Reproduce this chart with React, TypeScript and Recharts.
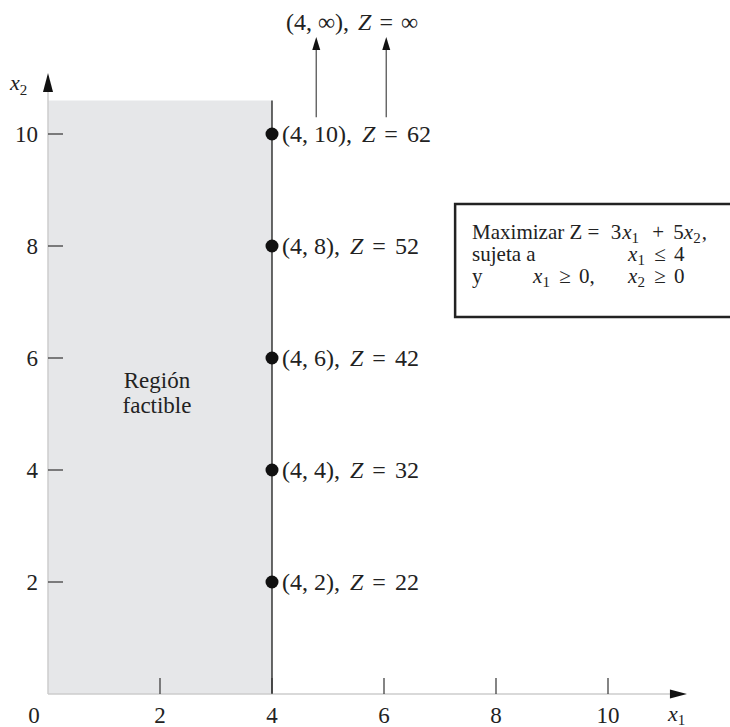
import { ReferenceArea, ReferenceDot, ReferenceLine, Scatter, ScatterChart, XAxis, YAxis } from 'recharts';

const FONT = '"Liberation Serif", "Times New Roman", serif';
const INK = '#222';

// ticks
const xTicks = [0, 2, 4, 6, 8, 10];
const yTicks = [2, 4, 6, 8, 10];

// vértices evaluados sobre la frontera x1 = 4
const vertexX = [4, 4, 4, 4, 4];
const vertexY = [2, 4, 6, 8, 10];
const vertexZ = [22, 32, 42, 52, 62];
const vertices = vertexX.map((x, i) => ({ x, y: vertexY[i], z: vertexZ[i] }));

// región factible y anotaciones (en unidades de los ejes)
const feasibleX = [0, 4];
const feasibleTop = 10.6;
const xAxisEnd = 11.41;
const yAxisEnd = 11.09;
const infArrowX = [4.79, 6.04];
const infArrowY = [10.3, 11.73];
const infLabelPos = { x: 5.43, y: 12.0 };
const boxX = [7.27, 12];
const boxY = [6.73, 8.75];

function XTick({ x, y, payload }: any) {
  const v = payload.value;
  return (
    <g>
      {v !== 0 && <line x1={x} x2={x} y1={y} y2={y - 16} stroke="#333" strokeWidth={1.2} />}
      <text x={v === 0 ? x - 14 : x} y={y + 29} textAnchor="middle" fontFamily={FONT} fontSize={23} fill={INK}>
        {v}
      </text>
    </g>
  );
}

function YTick({ x, y, payload }: any) {
  return (
    <g>
      <line x1={x} x2={x + 15} y1={y} y2={y} stroke="#333" strokeWidth={1.2} />
      <text x={x - 10} y={y + 8} textAnchor="end" fontFamily={FONT} fontSize={23} fill={INK}>
        {payload.value}
      </text>
    </g>
  );
}

function Arrow({ x1, y1, x2, y2, len = 17, half = 4.5, stroke = '#3a3a3a', width = 1.5 }: any) {
  const dx = x2 - x1;
  const dy = y2 - y1;
  const d = Math.hypot(dx, dy) || 1;
  const ux = dx / d;
  const uy = dy / d;
  const bx = x2 - ux * len;
  const by = y2 - uy * len;
  return (
    <g>
      <line x1={x1} y1={y1} x2={bx} y2={by} stroke={stroke} strokeWidth={width} />
      <path
        d={`M${x2},${y2} L${bx - uy * half},${by + ux * half} L${bx + uy * half},${by - ux * half} Z`}
        fill="#111"
      />
    </g>
  );
}

function Sub({ children, dx = 0, drop = 4, size = 15 }: any) {
  return (
    <>
      <tspan dx={dx} fontStyle="italic">x</tspan>
      <tspan dy={drop} fontSize={size}>
        {children}
      </tspan>
    </>
  );
}

function VertexMark({ cx, cy, payload }: any) {
  return (
    <g>
      <circle cx={cx} cy={cy} r={6.5} fill="#111" />
      <text x={cx + 10} y={cy + 8} fontFamily={FONT} fontSize={24} fill={INK}>
        {`(${payload.x}, ${payload.y}), `}
        <tspan dx={4} fontStyle="italic">Z</tspan>
        <tspan dx={3}>{' ='}</tspan>
        <tspan dx={3}>{` ${payload.z}`}</tspan>
      </text>
    </g>
  );
}

function RegionLabel({ viewBox }: any) {
  const cx = viewBox.x + viewBox.width / 2 - 3;
  const cy = viewBox.y + viewBox.height / 2;
  return (
    <g fontFamily={FONT} fontSize={23} fill={INK} textAnchor="middle">
      <text x={cx} y={cy - 9}>Región</text>
      <text x={cx} y={cy + 16}>factible</text>
    </g>
  );
}

function BoxShape({ x, y, width, height }: any) {
  const right = x + width + 12;
  return <path d={`M${right},${y} H${x} V${y + height} H${right}`} fill="#fff" stroke={INK} strokeWidth={2.5} />;
}

function BoxText({ viewBox }: any) {
  const x = viewBox.x + 17;
  const col = viewBox.x + 173;
  const y = viewBox.y;
  return (
    <g fontFamily={FONT} fontSize={21} fill={INK}>
      <text x={x} y={y + 35}>
        {'Maximizar Z ='}
        <tspan dx={6}>{' 3'}</tspan>
        <Sub dx={1}>1</Sub>
        <tspan dy={-4} dx={8}>{' +'}</tspan>
        <tspan dx={4}>{' 5'}</tspan>
        <Sub>2</Sub>
        <tspan dy={-4} dx={1}>,</tspan>
      </text>
      <text x={x} y={y + 57}>sujeta a</text>
      <text x={col} y={y + 57}>
        <Sub>1</Sub>
        <tspan dy={-4} dx={4}>{' ≤'}</tspan>
        <tspan dx={3}>{' 4'}</tspan>
      </text>
      <text x={x} y={y + 79}>y</text>
      <text x={viewBox.x + 78} y={y + 79}>
        <Sub>1</Sub>
        <tspan dy={-4} dx={4}>{' ≥'}</tspan>
        <tspan dx={3}>{' 0,'}</tspan>
      </text>
      <text x={col} y={y + 79}>
        <Sub>2</Sub>
        <tspan dy={-4} dx={4}>{' ≥'}</tspan>
        <tspan dx={3}>{' 0'}</tspan>
      </text>
    </g>
  );
}

function XAxisLabel({ viewBox }: any) {
  return (
    <text x={viewBox.x + viewBox.width - 19} y={viewBox.y + 27} fontFamily={FONT} fontSize={22} fill={INK}>
      <Sub drop={4}>1</Sub>
    </text>
  );
}

function YAxisLabel({ viewBox }: any) {
  return (
    <text x={viewBox.x - 38} y={viewBox.y + 17} fontFamily={FONT} fontSize={22} fill={INK}>
      <Sub drop={5}>2</Sub>
    </text>
  );
}

function InfLabel({ viewBox }: any) {
  const cx = viewBox.x + viewBox.width / 2;
  const cy = viewBox.y + viewBox.height / 2;
  return (
    <text x={cx} y={cy + 8} textAnchor="middle" fontFamily={FONT} fontSize={24} fill={INK}>
      {'(4, ∞), '}
      <tspan dx={3} fontStyle="italic">Z</tspan>
      <tspan dx={2}>{' ='}</tspan>
      <tspan dx={2}>{' ∞'}</tspan>
    </text>
  );
}

export default function App() {
  return (
    <div style={{ position: 'absolute', left: 0, top: 0, width: 730, height: 727, background: '#fff' }}>
      <ScatterChart width={730} height={727} margin={{ top: 8, right: 10, bottom: 0, left: 0 }}>
        <XAxis
          type="number"
          dataKey="x"
          domain={[0, 12]}
          ticks={xTicks}
          interval={0}
          height={33}
          axisLine={false}
          tickLine={false}
          tickSize={0}
          tickMargin={0}
          tick={<XTick />}
        />
        <YAxis
          type="number"
          dataKey="y"
          domain={[0, 12.25]}
          ticks={yTicks}
          interval={0}
          width={48}
          axisLine={false}
          tickLine={false}
          tickSize={0}
          tickMargin={0}
          tick={<YTick />}
        />
        <ReferenceArea
          x1={feasibleX[0]}
          x2={feasibleX[1]}
          y1={0}
          y2={feasibleTop}
          fill="#e6e7e9"
          fillOpacity={1}
          stroke="none"
          label={<RegionLabel />}
        />
        <ReferenceLine
          segment={[{ x: feasibleX[1], y: 0 }, { x: feasibleX[1], y: feasibleTop }]}
          stroke="#1a1a1a"
          strokeWidth={1.3}
        />
        <ReferenceLine
          segment={[{ x: 0, y: 0 }, { x: xAxisEnd, y: 0 }]}
          shape={(p: any) => <Arrow {...p} len={17} half={4.5} />}
          label={<XAxisLabel />}
        />
        <ReferenceLine
          segment={[{ x: 0, y: 0 }, { x: 0, y: yAxisEnd }]}
          shape={(p: any) => <Arrow {...p} len={19} half={5} />}
          label={<YAxisLabel />}
        />
        {infArrowX.map((ax) => (
          <ReferenceLine
            key={ax}
            segment={[{ x: ax, y: infArrowY[0] }, { x: ax, y: infArrowY[1] }]}
            shape={(p: any) => <Arrow {...p} len={13} half={4} stroke="#555" width={1.3} />}
          />
        ))}
        <ReferenceDot x={infLabelPos.x} y={infLabelPos.y} r={0} fill="none" stroke="none" label={<InfLabel />} />
        <ReferenceArea
          x1={boxX[0]}
          x2={boxX[1]}
          y1={boxY[0]}
          y2={boxY[1]}
          shape={<BoxShape />}
          label={<BoxText />}
        />
        <Scatter data={vertices} isAnimationActive={false} shape={(p: any) => <VertexMark {...p} />} />
      </ScatterChart>
    </div>
  );
}
